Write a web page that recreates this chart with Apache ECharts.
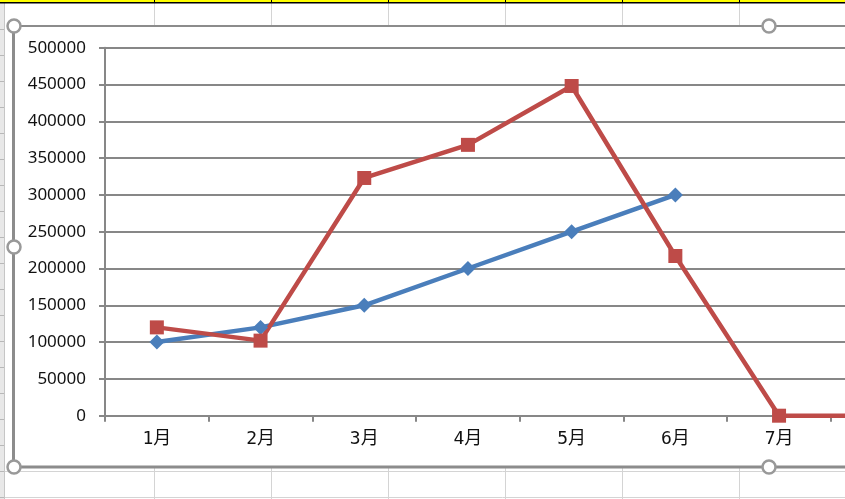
<!DOCTYPE html>
<html>
<head>
<meta charset="utf-8">
<script src="https://cdn.jsdelivr.net/npm/echarts@6/dist/echarts.min.js"></script>
<style>
html,body{margin:0;padding:0;background:#fff;overflow:hidden;width:845px;height:499px;}
#c{width:1000px;height:499px;}
</style>
</head>
<body>
<div id="c"></div>
<script>
const categories = ['1月', '2月', '3月', '4月', '5月', '6月', '7月', '8月'];
const seriesBlue = [100000, 120000, 150000, 200000, 250000, 300000, null, null];
const seriesRed = [120000, 102000, 323000, 368000, 448000, 217000, 0, 0];
const yTicks = { min: 0, max: 500000, interval: 50000 };

const W = 1000;
const GRIDC = '#d4d4d4';
const FRAME = '#8c8c8c';
const els = [];
const colXs = [154, 271, 388, 505, 622, 739, 856, 973];
const rowYs = [];
for (let y = 29; y < 499; y += 26) rowYs.push(y);
els.push({type:'rect', z:-20, shape:{x:0,y:0,width:4,height:499}, style:{fill:'#e8e8e8'}});
els.push({type:'line', z:-19, shape:{x1:4.5,y1:0,x2:4.5,y2:499}, style:{stroke:'#c6c6c6',lineWidth:1}});
rowYs.forEach(y => els.push({type:'line', z:-19, shape:{x1:0,y1:y+0.5,x2:4,y2:y+0.5}, style:{stroke:'#b8b8b8',lineWidth:1}}));
colXs.forEach(x => {
  els.push({type:'line', z:-19, shape:{x1:x+0.5,y1:3,x2:x+0.5,y2:26}, style:{stroke:GRIDC,lineWidth:1}});
  els.push({type:'line', z:-19, shape:{x1:x+0.5,y1:468,x2:x+0.5,y2:499}, style:{stroke:GRIDC,lineWidth:1}});
  els.push({type:'line', z:-18, shape:{x1:x+0.5,y1:0,x2:x+0.5,y2:3}, style:{stroke:'#000',lineWidth:1}});
});
[471.5, 497.5].forEach(y => els.push({type:'line', z:-19, shape:{x1:5,y1:y,x2:W,y2:y}, style:{stroke:GRIDC,lineWidth:1}}));
els.push({type:'rect', z:-19, shape:{x:0,y:0,width:W,height:2}, style:{fill:'#ffff00'}});
els.push({type:'rect', z:-18, shape:{x:0,y:2,width:W,height:1.5}, style:{fill:'#000'}});
els.push({type:'rect', z:-15, shape:{x:14,y:26,width:W,height:441}, style:{fill:'#fff'}});
els.push({type:'line', z:-14, shape:{x1:14,y1:26,x2:W,y2:26}, style:{stroke:FRAME,lineWidth:2}});
els.push({type:'line', z:-14, shape:{x1:14,y1:467,x2:W,y2:467}, style:{stroke:FRAME,lineWidth:3}});
els.push({type:'line', z:-14, shape:{x1:13.5,y1:26,x2:13.5,y2:467}, style:{stroke:FRAME,lineWidth:3}});
[[14,26],[14,247],[14,467],[769,26],[769,467]].forEach(([cx,cy]) =>
  els.push({type:'circle', z:-13, shape:{cx:cx,cy:cy,r:6.5}, style:{fill:'#fff',stroke:'#999999',lineWidth:2.5}}));

const chart = echarts.init(document.getElementById('c'), null, {renderer:'canvas'});
chart.setOption({
  animation: false,
  backgroundColor: '#fff',
  graphic: { elements: els },
  grid: { left: 105, top: 47.7, width: 829.6, height: 368 },
  xAxis: {
    type: 'category',
    data: categories,
    boundaryGap: true,
    axisLine: { lineStyle: { color: '#878787', width: 2 } },
    axisTick: { show: true, interval: 0, length: 6, lineStyle: { color: '#878787', width: 2 } },
    axisLabel: { interval: 0, margin: 15, color: '#111', fontSize: 18, fontFamily: '"DejaVu Sans Mono", "Noto Sans CJK JP"' },
    splitLine: { show: false }
  },
  yAxis: {
    type: 'value',
    min: yTicks.min, max: yTicks.max, interval: yTicks.interval,
    axisLine: { show: true, lineStyle: { color: '#878787', width: 2 } },
    axisTick: { show: true, length: 6, lineStyle: { color: '#878787', width: 2 } },
    axisLabel: { margin: 19, color: '#111', fontSize: 17, fontFamily: 'Noto Sans', formatter: v => String(v) },
    splitLine: { show: true, lineStyle: { color: '#878787', width: 2 } }
  },
  series: [
    {
      type: 'line', data: seriesBlue, connectNulls: false,
      symbol: 'diamond', symbolSize: 15, showAllSymbol: true,
      lineStyle: { color: '#4a7ebb', width: 4.5 },
      itemStyle: { color: '#4a7ebb' }
    },
    {
      type: 'line', data: seriesRed,
      symbol: 'rect', symbolSize: 14, showAllSymbol: true,
      lineStyle: { color: '#be4b48', width: 4.5 },
      itemStyle: { color: '#be4b48' }
    }
  ]
});
</script>
</body>
</html>
